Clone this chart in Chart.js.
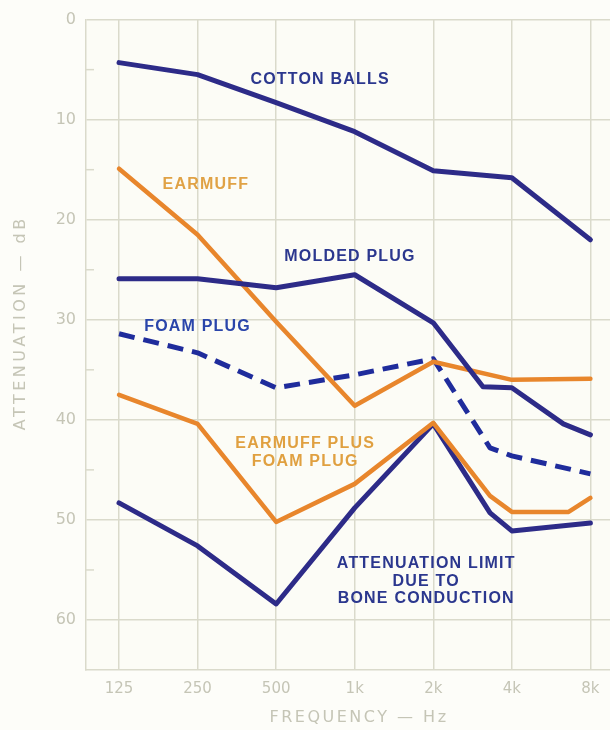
<!DOCTYPE html>
<html>
<head>
<meta charset="utf-8">
<script src="https://cdn.jsdelivr.net/npm/chart.js@4"></script>
<style>
  html, body { margin: 0; padding: 0; background: #fdfdf9; }
  #box { width: 610px; height: 730px; }
</style>
</head>
<body>
<div id="box"><canvas id="grafico"></canvas></div>
<script>
// frequencies (Hz) and attenuation (dB)
const tickFreqs = [125, 250, 500, 1000, 2000, 4000, 8000];
const tickNames = ["125", "250", "500", "1k", "2k", "4k", "8k"];
const dbTicks = [0, 10, 20, 30, 40, 50, 60];

const cottonFreq = [125, 250, 500, 1000, 2000, 4000, 8000];
const cottonDb = [4.3, 5.5, 8.3, 11.2, 15.1, 15.8, 22.0];

const earmuffFreq = [125, 250, 500, 1000, 2000, 4000, 8000];
const earmuffDb = [14.9, 21.5, 30.2, 38.6, 34.2, 36.0, 35.9];

const moldedFreq = [125, 250, 500, 1000, 2000, 3100, 4000, 6300, 8000];
const moldedDb = [25.9, 25.9, 26.8, 25.5, 30.3, 36.7, 36.8, 40.4, 41.5];

const foamFreq = [125, 250, 500, 1000, 2000, 3300, 4000, 8000];
const foamDb = [31.4, 33.3, 36.8, 35.5, 33.9, 42.8, 43.6, 45.4];

const comboFreq = [125, 250, 500, 1000, 2000, 3300, 4000, 6600, 8000];
const comboDb = [37.5, 40.4, 50.2, 46.4, 40.3, 47.6, 49.2, 49.2, 47.8];

const boneFreq = [125, 250, 500, 1000, 2000, 3300, 4000, 8000];
const boneDb = [48.3, 52.6, 58.4, 48.8, 40.4, 49.3, 51.1, 50.3];

const NAVY = "#2d2b88";
const ORANGE = "#e8862c";
const GRID = "#dadacb";
const LABEL = "#c5c5b6";

function pares(freqs, dbs) {
  return freqs.map(function (f, i) {
    return { x: f, y: dbs[i] };
  });
}

function serie(nome, freqs, dbs, cor, largura, tracejado) {
  return {
    label: nome,
    data: pares(freqs, dbs),
    borderColor: cor,
    backgroundColor: cor,
    borderWidth: largura,
    borderDash: tracejado || [],
    pointRadius: 0,
    tension: 0,
    borderJoinStyle: "round",
    borderCapStyle: tracejado ? "butt" : "round",
  };
}

// curve names written inside the plot
const rotulos = [
  { linhas: ["COTTON BALLS"], f: 737, db: 6.0, cor: "#2b378e" },
  { linhas: ["EARMUFF"], f: 269, db: 16.5, cor: "#e0a245" },
  { linhas: ["MOLDED PLUG"], f: 959, db: 23.7, cor: "#2b378e" },
  { linhas: ["FOAM PLUG"], f: 250, db: 30.7, cor: "#2a45aa" },
  { linhas: ["EARMUFF PLUS", "FOAM PLUG"], f: 646, db: 42.4, cor: "#e0a040" },
  { linhas: ["ATTENUATION LIMIT", "DUE TO", "BONE CONDUCTION"], f: 1880, db: 54.4, cor: "#2b378e" },
];

const fundo = {
  id: "fundo",
  beforeDraw: function (chart) {
    const a = chart.chartArea;
    const ctx = chart.ctx;
    ctx.save();
    ctx.fillStyle = "#fcfcf6";
    ctx.fillRect(a.left, a.top, a.right - a.left, a.bottom - a.top);
    ctx.restore();
  },
};

const extras = {
  id: "extras",
  afterDatasetsDraw: function (chart) {
    const ctx = chart.ctx;
    const a = chart.chartArea;
    const xs = chart.scales.x;
    const ys = chart.scales.y;
    ctx.save();
    // small minor ticks on the left border
    ctx.strokeStyle = GRID;
    ctx.lineWidth = 1.5;
    for (let v = 5; v < 65; v += 10) {
      const py = ys.getPixelForValue(v);
      ctx.beginPath();
      ctx.moveTo(a.left, py);
      ctx.lineTo(a.left + 8, py);
      ctx.stroke();
    }
    // curve labels
    ctx.font = "bold 16px 'Liberation Sans'";
    ctx.letterSpacing = "1.2px";
    ctx.textAlign = "center";
    ctx.textBaseline = "middle";
    rotulos.forEach(function (r) {
      const px = xs.getPixelForValue(r.f);
      r.linhas.forEach(function (t, i) {
        const py = ys.getPixelForValue(r.db) + i * 17.5;
        ctx.fillStyle = r.cor;
        ctx.fillText(t, px, py);
      });
    });
    // axis titles, widely spaced like the original lettering
    ctx.font = "16px 'DejaVu Sans'";
    ctx.fillStyle = LABEL;
    ctx.letterSpacing = "2.5px";
    ctx.fillText("FREQUENCY — Hz", (a.left + a.right) / 2 + 11, 718);
    ctx.translate(21, (a.top + a.bottom) / 2 - 22);
    ctx.rotate(-Math.PI / 2);
    ctx.letterSpacing = "3.5px";
    ctx.fillText("ATTENUATION — dB", 0, 0);
    ctx.restore();
  },
};

new Chart(document.getElementById("grafico"), {
  type: "line",
  data: {
    datasets: [
      serie("Cotton balls", cottonFreq, cottonDb, NAVY, 5),
      serie("Molded plug", moldedFreq, moldedDb, NAVY, 5),
      serie("Earmuff", earmuffFreq, earmuffDb, ORANGE, 4.5),
      serie("Earmuff plus foam plug", comboFreq, comboDb, ORANGE, 4.5),
      serie("Foam plug", foamFreq, foamDb, "#1f2c9c", 5, [16, 9]),
      serie("Bone conduction", boneFreq, boneDb, NAVY, 5),
    ],
  },
  options: {
    responsive: true,
    maintainAspectRatio: false,
    animation: false,
    layout: { padding: { top: 17, right: 0, left: 0, bottom: 0 } },
    plugins: {
      legend: { display: false },
      tooltip: { enabled: false },
    },
    scales: {
      x: {
        type: "logarithmic",
        min: 93.4,
        max: 9510,
        afterBuildTicks: function (axis) {
          axis.ticks = tickFreqs.map(function (v) { return { value: v }; });
        },
        afterFit: function (axis) { axis.height = 60; },
        ticks: {
          color: LABEL,
          font: { family: "DejaVu Sans", size: 15 },
          padding: 10,
          maxRotation: 0,
          autoSkip: false,
          callback: function (v) {
            const i = tickFreqs.indexOf(v);
            return i >= 0 ? tickNames[i] : "";
          },
        },
        grid: { color: GRID, lineWidth: 1.5, drawTicks: false },
        border: { color: GRID, width: 1.5 },
      },
      y: {
        type: "linear",
        reverse: true,
        min: 0,
        max: 65,
        afterBuildTicks: function (axis) {
          axis.ticks = dbTicks.map(function (v) { return { value: v }; });
        },
        afterFit: function (axis) { axis.width = 86; },
        ticks: {
          color: LABEL,
          font: { family: "DejaVu Sans", size: 16 },
          padding: 10,
        },
        grid: { color: GRID, lineWidth: 1.5, drawTicks: false },
        border: { color: GRID, width: 1.5 },
      },
    },
  },
  plugins: [fundo, extras],
});
</script>
</body>
</html>
